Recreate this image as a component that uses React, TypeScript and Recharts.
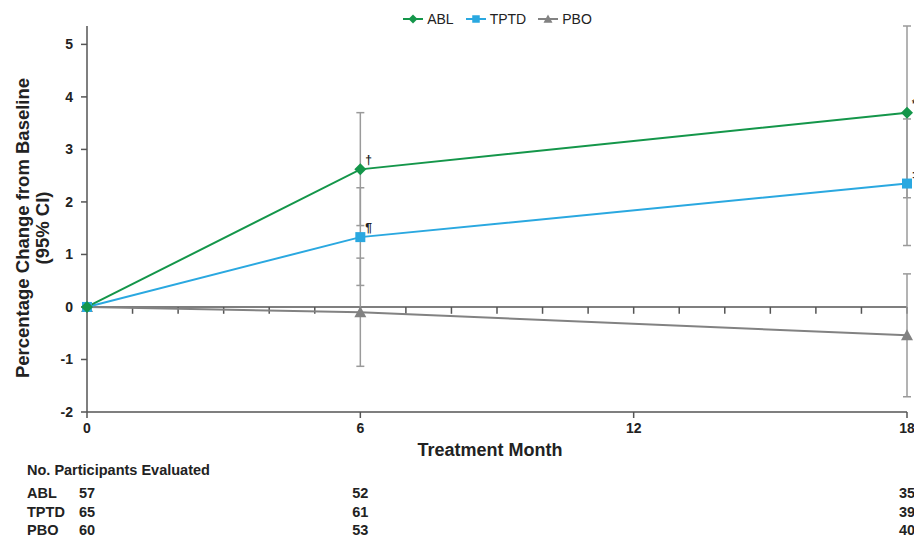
import React from 'react';
import {
  LineChart,
  Line,
  XAxis,
  YAxis,
  ReferenceLine,
  ErrorBar,
  LabelList,
  Legend,
  Label,
} from 'recharts';

// Treatment months with observations
const MONTHS = [0, 6, 18];

// Mean percentage change and 95% CI bounds
const ABL_MEAN = [0, 2.62, 3.7];
const ABL_LOW = [0, 1.55, 2.08];
const ABL_HIGH = [0, 3.7, 5.35];

const TPTD_MEAN = [0, 1.33, 2.35];
const TPTD_LOW = [0, 0.41, 1.17];
const TPTD_HIGH = [0, 2.27, 3.58];

const PBO_MEAN = [0, -0.1, -0.54];
const PBO_LOW = [0, -1.13, -1.71];
const PBO_HIGH = [0, 0.93, 0.63];

// Footnote symbols per point
const ABL_MARKS = ['', '†', '*'];
const TPTD_MARKS = ['', '¶', '‡'];

// Participants evaluated
const ABL_N = [57, 52, 35];
const TPTD_N = [65, 61, 39];
const PBO_N = [60, 53, 40];

// Axis ticks
const X_TICKS = [0, 6, 12, 18];
const Y_TICKS = [-2, -1, 0, 1, 2, 3, 4, 5];
const MINOR_MONTHS = [1, 2, 3, 4, 5, 6, 7, 8, 9, 10, 11, 12, 13, 14, 15, 16, 17, 18];

const COLORS = {
  abl: '#14964a',
  tptd: '#2aa8e0',
  pbo: '#828282',
  err: '#9a9a9a',
  axis: '#555555',
  text: '#222222',
};

const FONT = "Arial, 'Liberation Sans', Helvetica, sans-serif";

const chartData = MONTHS.map((month, i) => ({
  month,
  abl: ABL_MEAN[i],
  ablErr: [ABL_MEAN[i] - ABL_LOW[i], ABL_HIGH[i] - ABL_MEAN[i]],
  ablMark: ABL_MARKS[i],
  tptd: TPTD_MEAN[i],
  tptdErr: [TPTD_MEAN[i] - TPTD_LOW[i], TPTD_HIGH[i] - TPTD_MEAN[i]],
  tptdMark: TPTD_MARKS[i],
  pbo: PBO_MEAN[i],
  pboErr: [PBO_MEAN[i] - PBO_LOW[i], PBO_HIGH[i] - PBO_MEAN[i]],
}));

const Diamond = ({ cx, cy, fill }: any) =>
  cx == null ? null : (
    <polygon points={`${cx},${cy - 6} ${cx + 6},${cy} ${cx},${cy + 6} ${cx - 6},${cy}`} fill={fill} />
  );

const Square = ({ cx, cy, fill }: any) =>
  cx == null ? null : <rect x={cx - 5} y={cy - 5} width={10} height={10} fill={fill} />;

const Triangle = ({ cx, cy, fill }: any) =>
  cx == null ? null : (
    <polygon points={`${cx},${cy - 6} ${cx + 6},${cy + 5} ${cx - 6},${cy + 5}`} fill={fill} />
  );

const renderMark = (props: any) => {
  const { x, y, value } = props;
  if (!value) return null;
  return (
    <text x={x + 5} y={y - 5} fontSize={12} fontWeight="bold" fill={COLORS.text} fontFamily={FONT}>
      {value}
    </text>
  );
};

const LEGEND_ITEMS = [
  { name: 'ABL', color: COLORS.abl, shape: Diamond },
  { name: 'TPTD', color: COLORS.tptd, shape: Square },
  { name: 'PBO', color: COLORS.pbo, shape: Triangle },
];

const CustomLegend = () => (
  <div style={{ display: 'flex', justifyContent: 'center', gap: 11, fontFamily: FONT, fontSize: 14, color: COLORS.text }}>
    {LEGEND_ITEMS.map((item) => {
      const Shape = item.shape;
      return (
        <div key={item.name} style={{ display: 'flex', alignItems: 'center', gap: 3 }}>
          <svg width={22} height={14}>
            <line x1={1} y1={7} x2={21} y2={7} stroke={item.color} strokeWidth={2} />
            <g transform="translate(11,7) scale(0.75) translate(-11,-7)">
              <Shape cx={11} cy={7} fill={item.color} />
            </g>
          </svg>
          <span>{item.name}</span>
        </div>
      );
    })}
  </div>
);

// Tick for the participant rows: the count under each month, plus row name at the first tick
const makeCountTick = (name: string, counts: number[]) => (props: any) => {
  const { x, y, payload } = props;
  const idx = MONTHS.indexOf(payload.value);
  if (idx < 0) return null;
  return (
    <g>
      {idx === 0 && (
        <text x={x - 60} y={y} dy="0.71em" textAnchor="start" fontSize={14.5} fontWeight="bold" fill={COLORS.text} fontFamily={FONT}>
          {name}
        </text>
      )}
      <text x={x} y={y} dy="0.71em" textAnchor="middle" fontSize={14.5} fontWeight="bold" fill={COLORS.text} fontFamily={FONT}>
        {counts[idx]}
      </text>
    </g>
  );
};

const YLabel = ({ viewBox }: any) => {
  const cy = viewBox.y + viewBox.height / 2 + 9;
  return (
    <g fontFamily={FONT} fontWeight="bold" fontSize={18.5} fill={COLORS.text}>
      <text x={22} y={cy} textAnchor="middle" dominantBaseline="central" transform={`rotate(-90, 22, ${cy})`}>
        Percentage Change from Baseline
      </text>
      <text x={42} y={cy} textAnchor="middle" dominantBaseline="central" transform={`rotate(-90, 42, ${cy})`}>
        (95% CI)
      </text>
    </g>
  );
};

const tickStyle = { fill: COLORS.text, fontSize: 14, fontWeight: 'bold' as const, fontFamily: FONT };

export default function App() {
  return (
    <div style={{ position: 'absolute', left: 0, top: 0, width: 914, height: 537, background: '#fff' }}>
      <LineChart width={914} height={537} data={chartData} margin={{ top: 26, right: 7, bottom: 0, left: 0 }}>
        <Legend
          verticalAlign="middle"
          align="center"
          content={<CustomLegend />}
          wrapperStyle={{ top: 11, left: 87, width: 820 }}
        />
        <XAxis
          xAxisId={0}
          dataKey="month"
          type="number"
          domain={[0, 18]}
          ticks={X_TICKS}
          height={46}
          tick={tickStyle}
          tickSize={6}
          tickMargin={5}
          stroke={COLORS.axis}
          strokeWidth={1.5}
          interval={0}
        >
          <Label
            content={({ viewBox }: any) => (
              <text
                x={viewBox.x + viewBox.width / 2 - 7}
                y={viewBox.y + 44}
                textAnchor="middle"
                fontSize={18}
                fontWeight="bold"
                fill={COLORS.text}
                fontFamily={FONT}
              >
                Treatment Month
              </text>
            )}
          />
        </XAxis>
        <XAxis
          xAxisId={1}
          dataKey="month"
          type="number"
          domain={[0, 18]}
          ticks={X_TICKS}
          height={22}
          tick={false}
          axisLine={false}
          tickLine={false}
        >
          <Label
            content={({ viewBox }: any) => (
              <text x={27} y={viewBox.y + 17} fontSize={14.5} fontWeight="bold" fill={COLORS.text} fontFamily={FONT}>
                No. Participants Evaluated
              </text>
            )}
          />
        </XAxis>
        <XAxis
          xAxisId={2}
          dataKey="month"
          type="number"
          domain={[0, 18]}
          ticks={MONTHS}
          interval={0}
          height={19}
          axisLine={false}
          tickLine={false}
          tickSize={0}
          tickMargin={8}
          tick={makeCountTick('ABL', ABL_N)}
        />
        <XAxis
          xAxisId={3}
          dataKey="month"
          type="number"
          domain={[0, 18]}
          ticks={MONTHS}
          interval={0}
          height={19}
          axisLine={false}
          tickLine={false}
          tickSize={0}
          tickMargin={8}
          tick={makeCountTick('TPTD', TPTD_N)}
        />
        <XAxis
          xAxisId={4}
          dataKey="month"
          type="number"
          domain={[0, 18]}
          ticks={MONTHS}
          interval={0}
          height={19}
          axisLine={false}
          tickLine={false}
          tickSize={0}
          tickMargin={7}
          tick={makeCountTick('PBO', PBO_N)}
        />
        <YAxis
          type="number"
          domain={[-2, 5]}
          ticks={Y_TICKS}
          width={87}
          tick={tickStyle}
          tickSize={6}
          tickMargin={8}
          stroke={COLORS.axis}
          strokeWidth={1.5}
          interval={0}
        >
          <Label content={<YLabel />} />
        </YAxis>

        <ReferenceLine y={0} stroke={COLORS.axis} strokeWidth={1.5} />
        {MINOR_MONTHS.map((m) => (
          <ReferenceLine
            key={m}
            segment={[
              { x: m, y: 0 },
              { x: m, y: -0.13 },
            ]}
            stroke={COLORS.axis}
            strokeWidth={1.5}
          />
        ))}

        <Line
          dataKey="pbo"
          name="PBO"
          stroke={COLORS.pbo}
          strokeWidth={2}
          dot={<Triangle fill={COLORS.pbo} />}
          isAnimationActive={false}
        >
          <ErrorBar dataKey="pboErr" width={4} stroke={COLORS.err} strokeWidth={1.5} />
        </Line>
        <Line
          dataKey="tptd"
          name="TPTD"
          stroke={COLORS.tptd}
          strokeWidth={2}
          dot={<Square fill={COLORS.tptd} />}
          isAnimationActive={false}
        >
          <ErrorBar dataKey="tptdErr" width={4} stroke={COLORS.err} strokeWidth={1.5} />
          <LabelList dataKey="tptdMark" content={renderMark} />
        </Line>
        <Line
          dataKey="abl"
          name="ABL"
          stroke={COLORS.abl}
          strokeWidth={2}
          dot={<Diamond fill={COLORS.abl} />}
          isAnimationActive={false}
        >
          <ErrorBar dataKey="ablErr" width={4} stroke={COLORS.err} strokeWidth={1.5} />
          <LabelList dataKey="ablMark" content={renderMark} />
        </Line>
      </LineChart>
    </div>
  );
}
